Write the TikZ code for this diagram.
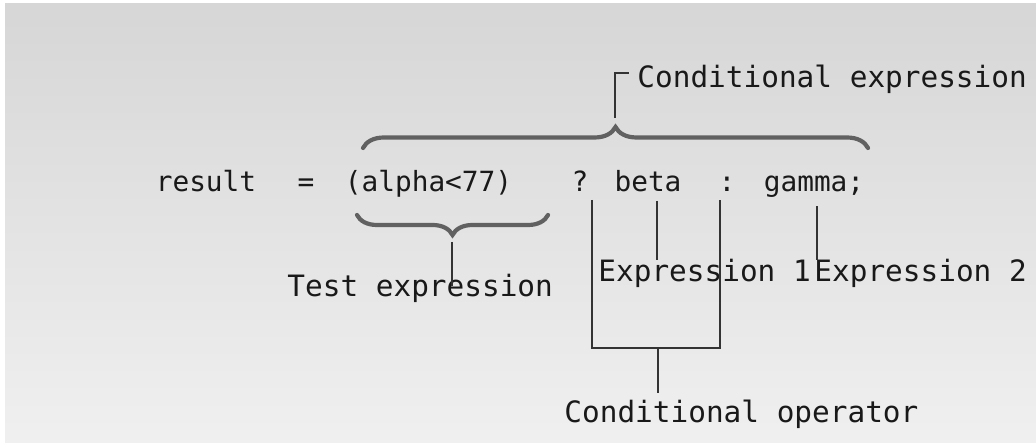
\documentclass[tikz,border=0pt]{standalone}
\usepackage{fontspec}
\newfontfamily\codefont{DejaVu Sans Mono}
\usepackage{tikz}
\usetikzlibrary{positioning,decorations.pathreplacing}

\begin{document}
\begin{tikzpicture}[
    x=0.5pt, y=0.5pt,
    code/.style={
      inner sep=0, anchor=base, text=black!90,
      font=\codefont\fontsize{13.9}{16}\selectfont
    },
    label/.style={
      inner xsep=0, inner ysep=3.5pt, anchor=base west, text=black!90,
      font=\codefont\fontsize{14.7}{17}\selectfont
    },
    lead/.style={draw=black!80, line width=0.9pt},
    bracepath/.style={
      draw=black!62, line width=2.1pt, line cap=round,
      decorate, decoration={brace, amplitude=#1}
    },
  ]
    \useasboundingbox (0,0) rectangle (1036,443);
    \fill[white] (0,0) rectangle (1036,443);
    \shade[top color=black!16, bottom color=black!6] (5,0) rectangle (1036,439);

    \node[code](res) at (206,251) {result};
    \node[code](eq) at (306,251) {=};
    \node[code](test) at (428.5,251) {(alpha<77)};
    \node[code](qmark) at (580,251) {?};
    \node[code](beta) at (648,251) {beta};
    \node[code](colon) at (727,251) {:};
    \node[code](gamma) at (814,251) {gamma;};

    \node[label](condexpr) at (637,355) {Conditional expression};
    \node[label](testlbl) at (287,146) {Test expression};
    \node[label](expr1) at (598,161) {Expression 1};
    \node[label](expr2) at (814,161) {Expression 2};
    \node[label](condop) at (564,20) {Conditional operator};

    \draw[bracepath=10.5pt] (363,295) -- (868,295);
    \draw[bracepath=10pt] (548,228) -- (357,228);

    \coordinate (toptip) at (615,325);
    \coordinate (testtip) at (452,201);
    \coordinate (qfoot) at (592,243);
    \coordinate (cfoot) at (720,243);
    \coordinate (opjoin) at (658,95);

    \draw[lead] (toptip) |- ([shift={(-8,-15)}]condexpr.north west);
    \draw[lead, shorten >=3.5pt] (testtip) -- (testtip |- testlbl.mid);
    \draw[lead] ([shift={(9,-8)}]beta.south) -- ([shift={(9,-8)}]beta.south |- expr1.north);
    \draw[lead] ([shift={(3,-8)}]gamma.south) -- ([shift={(3,-8)}]gamma.south |- expr2.north);
    \draw[lead] (qfoot) |- (opjoin) -| (cfoot);
    \draw[lead] (opjoin) -- (opjoin |- condop.north);

  \end{tikzpicture}
\end{document}
